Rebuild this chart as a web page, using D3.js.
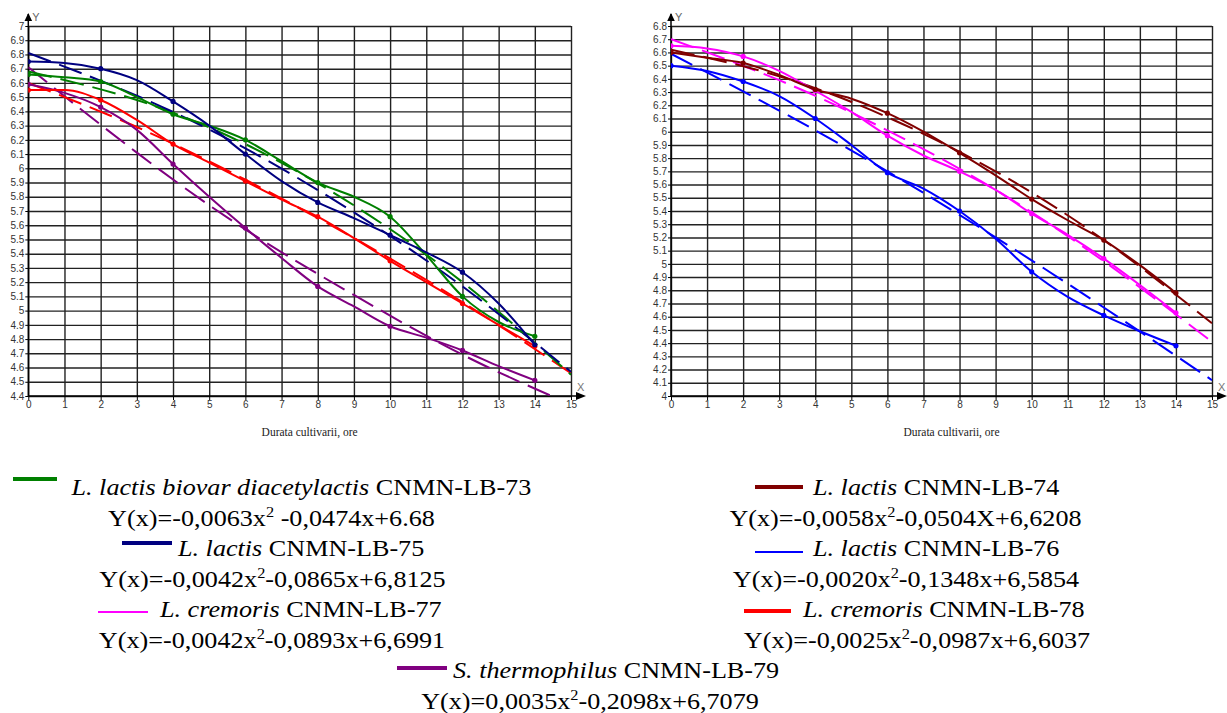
<!DOCTYPE html>
<html><head><meta charset="utf-8">
<script src="https://cdn.jsdelivr.net/npm/d3@7"></script>
<style>
html,body{margin:0;padding:0;background:#fff;}
svg{display:block;}
.serif{font-family:"Liberation Serif","Times New Roman",serif;}
</style></head>
<body>
<svg id="chart" width="1227" height="713"></svg>
<script>
// ---------- data ----------
const hours = [0,1,2,3,4,5,6,7,8,9,10,11,12,13,14];
const fitHours = [0,3,6,9,12,15];
const xTickValues = [0,1,2,3,4,5,6,7,8,9,10,11,12,13,14,15];
const leftYTicks = [7,6.9,6.8,6.7,6.6,6.5,6.4,6.3,6.2,6.1,6,5.9,5.8,5.7,5.6,5.5,5.4,5.3,5.2,5.1,5,4.9,4.8,4.7,4.6,4.5,4.4];
const rightYTicks = [6.8,6.7,6.6,6.5,6.4,6.3,6.2,6.1,6,5.9,5.8,5.7,5.6,5.5,5.4,5.3,5.2,5.1,5,4.9,4.8,4.7,4.6,4.5,4.4,4.3,4.2,4.1,4];

// left chart
const lb73 = [6.66,6.64,6.61,6.50,6.38,6.30,6.20,6.05,5.90,5.80,5.66,5.39,5.10,4.92,4.82];
const lb75 = [6.75,6.74,6.70,6.62,6.47,6.30,6.10,5.91,5.76,5.65,5.53,5.41,5.27,5.05,4.76];
const lb78 = [6.55,6.55,6.48,6.34,6.17,6.04,5.91,5.78,5.66,5.51,5.35,5.20,5.05,4.90,4.75];
const lb79 = [6.59,6.53,6.43,6.27,6.03,5.80,5.58,5.37,5.17,5.03,4.89,4.81,4.72,4.61,4.51];
const fit73 = [6.68,6.48,6.17,5.74,5.20,4.55];
const fit75 = [6.81,6.51,6.14,5.69,5.17,4.57];
const fit78 = [6.60,6.29,5.92,5.51,5.06,4.56];
const fit79 = [6.71,6.11,5.57,5.11,4.69,4.34];
// right chart
const lb74 = [6.60,6.56,6.52,6.43,6.32,6.25,6.14,6.00,5.84,5.67,5.49,5.33,5.18,4.99,4.78];
const lb77 = [6.65,6.63,6.57,6.46,6.31,6.15,5.97,5.82,5.70,5.56,5.38,5.22,5.04,4.84,4.63];
const lb76 = [6.50,6.46,6.38,6.27,6.10,5.90,5.69,5.57,5.40,5.19,4.94,4.75,4.61,4.49,4.38];
const fit74 = [6.62,6.42,6.11,5.70,5.18,4.55];
const fit77 = [6.70,6.39,6.01,5.56,5.02,4.41];
const fit76 = [6.59,6.16,5.70,5.20,4.67,4.12];

const axisTitle = "Durata cultivarii, ore";
const strainItalic = ["L. lactis biovar diacetylactis","L. lactis","L. cremoris","L. lactis","L. lactis","L. cremoris","S. thermophilus"];
const strainCode = ["CNMN-LB-73","CNMN-LB-75","CNMN-LB-77","CNMN-LB-74","CNMN-LB-76","CNMN-LB-78","CNMN-LB-79"];
const eqPre = ["Y(x)=-0,0063x","Y(x)=-0,0042x","Y(x)=-0,0042x","Y(x)=-0,0058x","Y(x)=-0,0020x","Y(x)=-0,0025x","Y(x)=0,0035x"];
const eqPost = [" -0,0474x+6.68","-0,0865x+6,8125","-0,0893x+6,6991","-0,0504X+6,6208","-0,1348x+6,5854","-0,0987x+6,6037","-0,2098x+6,7079"];

const C = {g:"#008000", navy:"#000080", red:"#ff0000", purple:"#800080", maroon:"#800000", blue:"#0000ff", magenta:"#ff00ff"};

// ---------- drawing ----------
const svg = d3.select("#chart");
const fmt = v => { const s = d3.format(".1f")(v); return s.endsWith(".0") ? s.slice(0,-2) : s; };
const sans = "Liberation Sans, Arial, sans-serif";

function panel(id, xr, yDom, yTicks, solids, fits) {
  const x = d3.scaleLinear().domain([0,15]).range(xr);
  const y = d3.scaleLinear().domain(yDom).range([396,26]);
  const g = svg.append("g");
  const top = y(yDom[1]), bot = y(yDom[0]);

  // grid
  g.append("g").attr("transform",`translate(${x(0)},0)`)
    .call(d3.axisLeft(y).tickValues(yTicks).tickSize(-(x(15)-x(0))).tickFormat(""))
    .call(s=>s.select(".domain").remove())
    .call(s=>s.selectAll("line").attr("stroke","#222").attr("stroke-width",1.4));
  g.append("g").attr("transform",`translate(0,${bot})`)
    .call(d3.axisBottom(x).tickValues(xTickValues).tickSize(-(bot-top)).tickFormat(""))
    .call(s=>s.select(".domain").remove())
    .call(s=>s.selectAll("line").attr("stroke","#222").attr("stroke-width",1.4));

  // axes with labels
  g.append("g").attr("transform",`translate(${x(0)},0)`)
    .call(d3.axisLeft(y).tickValues(yTicks).tickSize(3).tickPadding(1).tickFormat(fmt))
    .call(s=>s.select(".domain").remove())
    .call(s=>s.selectAll("line").attr("stroke","#000"))
    .call(s=>s.selectAll("text").attr("font-family",sans).attr("font-size",10).attr("fill","#333"));
  g.append("g").attr("transform",`translate(0,${bot})`)
    .call(d3.axisBottom(x).tickValues(xTickValues).tickSize(4).tickPadding(1).tickFormat(d3.format("d")))
    .call(s=>s.select(".domain").remove())
    .call(s=>s.selectAll("line").attr("stroke","#000"))
    .call(s=>s.selectAll("text").attr("font-family",sans).attr("font-size",10).attr("fill","#333"));

  // axis lines + arrows
  g.append("line").attr("x1",x(0)).attr("x2",x(0)).attr("y1",bot).attr("y2",14).attr("stroke","#000").attr("stroke-width",1.5);
  g.append("line").attr("x1",x(0)).attr("x2",x(15)+12).attr("y1",bot).attr("y2",bot).attr("stroke","#000").attr("stroke-width",1.5);
  g.append("path").attr("d",`M${x(0)-3.8},21 L${x(0)+3.8},21 L${x(0)},13 Z`).attr("fill","#000");
  g.append("path").attr("d",`M${x(15)+5},${bot-4} L${x(15)+5},${bot+4} L${x(15)+15},${bot} Z`).attr("fill","#000");
  g.append("text").attr("x",x(0)+4).attr("y",21).text("Y")
    .attr("font-family",sans).attr("font-size",11).attr("fill","#666");
  g.append("text").attr("x",x(15)+6).attr("y",bot-5).text("X")
    .attr("font-family",sans).attr("font-size",11).attr("fill","#777");

  // axis title
  g.append("text").attr("class","serif").attr("x",(x(0)+x(15))/2+10).attr("y",436).attr("text-anchor","middle")
    .attr("font-size",11.5).attr("fill","#222")
    .text(axisTitle);

  // clip
  svg.append("clipPath").attr("id",id).append("rect")
    .attr("x",x(0)).attr("y",top).attr("width",x(15)-x(0)).attr("height",bot-top);
  const plot = g.append("g").attr("clip-path",`url(#${id})`);

  const fitLine = d3.line().x((d,i)=>x(fitHours[i])).y(d=>y(d)).curve(d3.curveNatural);
  fits.forEach(f=>{
    plot.append("path").attr("d",fitLine(f.v)).attr("fill","none").attr("stroke",f.c)
      .attr("stroke-width",2).attr("stroke-dasharray","24,9");
  });
  const solidLine = d3.line().x((d,i)=>x(hours[i])).y(d=>y(d)).curve(d3.curveMonotoneX);
  solids.forEach(s=>{
    plot.append("path").attr("d",solidLine(s.v)).attr("fill","none").attr("stroke",s.c).attr("stroke-width",2);
    plot.selectAll(null).data(s.v.map((v,i)=>[hours[i],v]).filter(d=>d[0]%2===0)).enter()
      .append("circle").attr("cx",d=>x(d[0])).attr("cy",d=>y(d[1])).attr("r",2.6).attr("fill",s.c);
  });
}

panel("clipL",[28.3,571],[4.4,7],leftYTicks,
  [{v:lb79,c:C.purple},{v:lb78,c:C.red},{v:lb73,c:C.g},{v:lb75,c:C.navy}],
  [{v:fit79,c:C.purple},{v:fit78,c:C.red},{v:fit73,c:C.g},{v:fit75,c:C.navy}]);
panel("clipR",[671,1212],[4.0,6.8],rightYTicks,
  [{v:lb76,c:C.blue},{v:lb77,c:C.magenta},{v:lb74,c:C.maroon}],
  [{v:fit76,c:C.blue},{v:fit77,c:C.magenta},{v:fit74,c:C.maroon}]);

// ---------- legend ----------
const SX = 1.09;
const leg = svg.append("g");
function label(i, x, base) {
  const t = leg.append("g").attr("transform",`translate(${x},${base}) scale(${SX},1)`)
    .append("text").attr("class","serif").attr("font-size",24).attr("fill","#000");
  t.append("tspan").attr("class","serif").attr("font-style","italic").text(strainItalic[i]);
  t.append("tspan").attr("class","serif").text(" "+strainCode[i]);
}
function eq(i, cx, base) {
  const t = leg.append("g").attr("transform",`translate(${cx},${base}) scale(${SX},1)`)
    .append("text").attr("class","serif").attr("font-size",24).attr("fill","#000").attr("text-anchor","middle");
  t.append("tspan").text(eqPre[i]);
  t.append("tspan").attr("font-size",15).attr("dy",-9).text("2");
  t.append("tspan").attr("dy",9).text(eqPost[i]);
}
function swatch(c, x1, x2, yy, w) {
  leg.append("line").attr("x1",x1).attr("x2",x2).attr("y1",yy).attr("y2",yy).attr("stroke",c).attr("stroke-width",w);
}
const B = [495,525.5,556,586.5,617,647.5,678,708.5];
// left column
swatch(C.g,13,57,479,4);   label(0,71.5,B[0]); eq(0,271.5,B[1]);
swatch(C.navy,122,172,543,4); label(1,178,B[2]); eq(1,272.5,B[3]);
swatch(C.magenta,98,148,612,2); label(2,160,B[4]); eq(2,272,B[5]);
// right column
swatch(C.maroon,755,803,487,4); label(3,813,B[0]); eq(3,905.5,B[1]);
swatch(C.blue,755,803,552,2); label(4,813,B[2]); eq(4,906,B[3]);
swatch(C.red,744,791,611,4); label(5,803,B[4]); eq(5,917,B[5]);
// bottom
swatch(C.purple,397,447,668,4); label(6,453,B[6]); eq(6,590,B[7]);
</script>
</body></html>
